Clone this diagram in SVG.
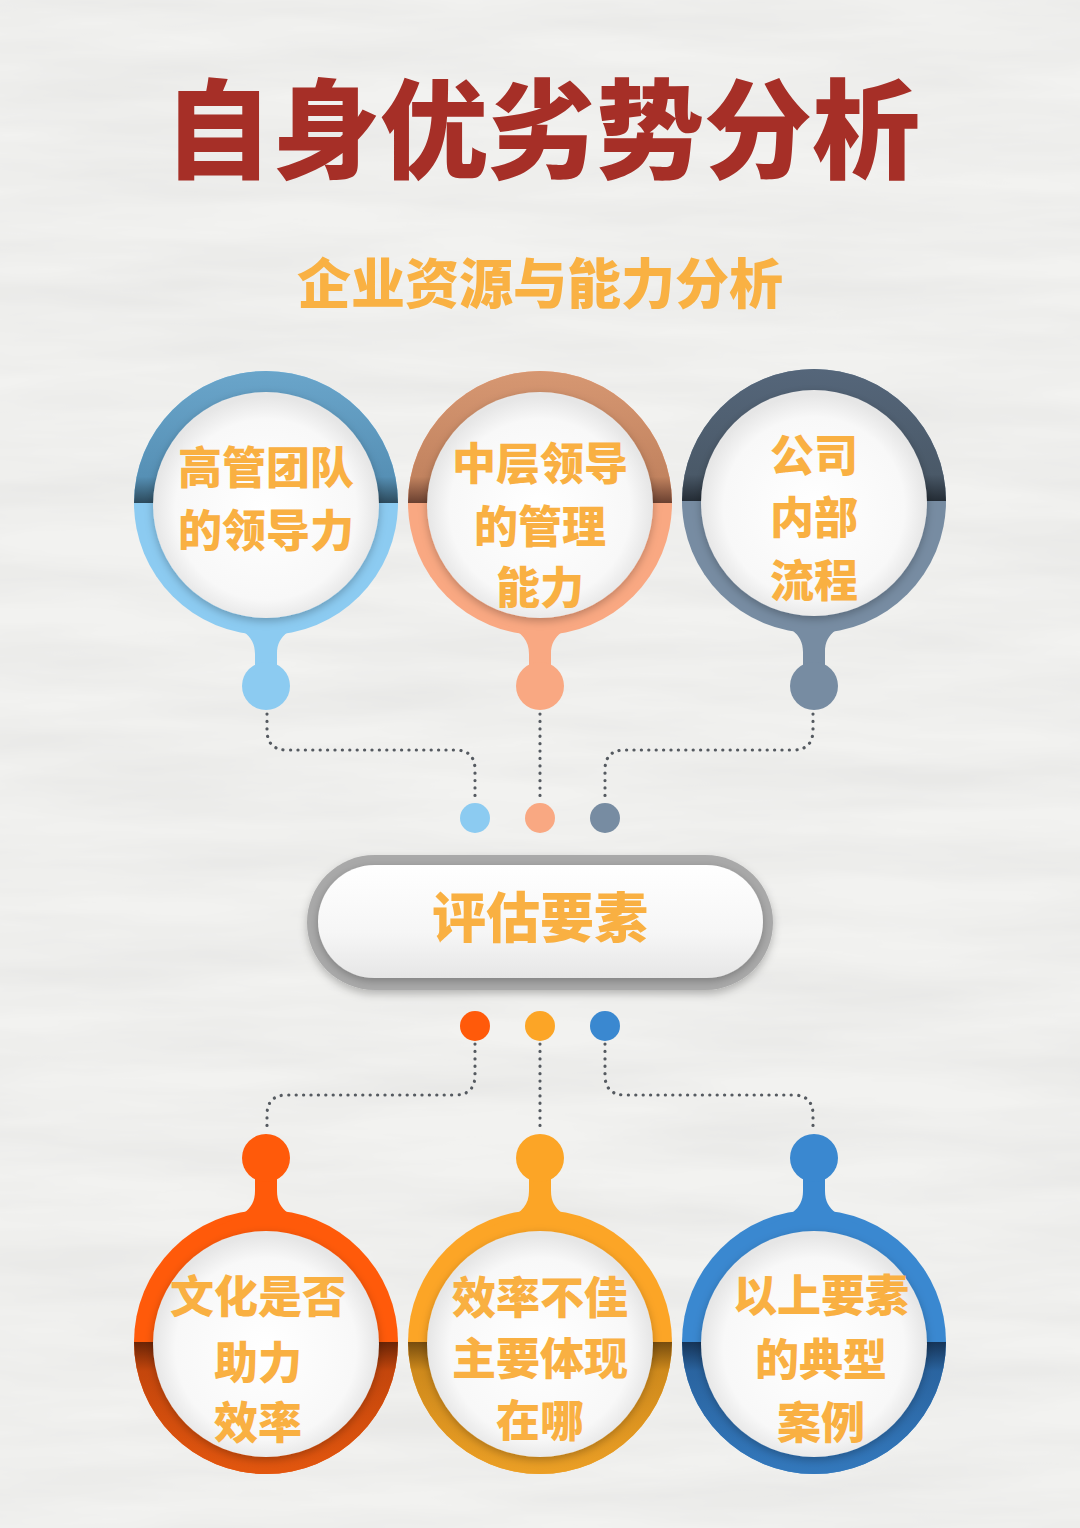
<svg xmlns="http://www.w3.org/2000/svg" width="1080" height="1528" viewBox="0 0 1080 1528">
<defs>
<style>
.cjk{font-family:"Noto Sans CJK SC","Noto Sans CJK JP",sans-serif;font-weight:900;text-anchor:middle}
.lbl{font-size:44px;fill:#f9b042}
.dot{fill:none;stroke:#555a60;stroke-width:3.2;stroke-linecap:round;stroke-dasharray:0.1 7.3}
</style>
<filter id="paper" x="0" y="0" width="100%" height="100%">
<feTurbulence type="fractalNoise" baseFrequency="0.003 0.025" numOctaves="4" seed="7"/>
<feColorMatrix type="matrix" values="0 0 0 0 0.55  0 0 0 0 0.55  0 0 0 0 0.55  0.35 0 0 0 -0.1"/>
</filter>
<filter id="sh" x="-20%" y="-20%" width="140%" height="140%">
<feDropShadow dx="0" dy="3" stdDeviation="4" flood-color="#000" flood-opacity="0.25"/>
</filter>
<filter id="sh2" x="-10%" y="-20%" width="120%" height="140%">
<feDropShadow dx="0" dy="4" stdDeviation="4" flood-color="#000" flood-opacity="0.25"/>
</filter>
<radialGradient id="gDisk" cx="50%" cy="52%" r="50%">
<stop offset="0" stop-color="#ffffff"/>
<stop offset="0.8" stop-color="#f8f8f8"/>
<stop offset="1" stop-color="#e6e6e6"/>
</radialGradient>
<linearGradient id="gPill" x1="0" y1="0" x2="0" y2="1">
<stop offset="0" stop-color="#ffffff"/>
<stop offset="0.6" stop-color="#f6f6f6"/>
<stop offset="1" stop-color="#e6e6e6"/>
</linearGradient>
<linearGradient id="gTop1" x1="0" y1="0" x2="0" y2="1">
<stop offset="0" stop-color="#6aa5ca"/><stop offset="0.8" stop-color="#5690b5"/><stop offset="1" stop-color="#2c4a5c"/>
</linearGradient>
<linearGradient id="gTop2" x1="0" y1="0" x2="0" y2="1">
<stop offset="0" stop-color="#d69772"/><stop offset="0.8" stop-color="#c2835f"/><stop offset="1" stop-color="#6a4030"/>
</linearGradient>
<linearGradient id="gTop3" x1="0" y1="0" x2="0" y2="1">
<stop offset="0" stop-color="#55667a"/><stop offset="0.8" stop-color="#4a5968"/><stop offset="1" stop-color="#242c35"/>
</linearGradient>
<linearGradient id="gBot1" x1="0" y1="0" x2="0" y2="1">
<stop offset="0" stop-color="#6a2406"/><stop offset="0.22" stop-color="#c4460c"/><stop offset="1" stop-color="#e2560e"/>
</linearGradient>
<linearGradient id="gBot2" x1="0" y1="0" x2="0" y2="1">
<stop offset="0" stop-color="#764c0e"/><stop offset="0.22" stop-color="#cf8a1c"/><stop offset="1" stop-color="#eb9f25"/>
</linearGradient>
<linearGradient id="gBot3" x1="0" y1="0" x2="0" y2="1">
<stop offset="0" stop-color="#163457"/><stop offset="0.22" stop-color="#2a64a0"/><stop offset="1" stop-color="#3378bc"/>
</linearGradient>
</defs>

<g id="background">
<rect x="0" y="0" width="1080" height="1528" fill="#f2f2f0"/>
<rect x="0" y="0" width="1080" height="1528" filter="url(#paper)"/>
</g>

<g id="title">
<text class="cjk" x="542" y="170" font-size="108" fill="#a62f27">自身优劣势分析</text>
</g>
<g id="subtitle">
<text class="cjk" x="540" y="304" font-size="54" fill="#f9b143">企业资源与能力分析</text>
</g>

<g id="connectors">
<path class="dot" d="M267 714 L267 730 Q267 750 287 750 L455 750 Q475 750 475 770 L475 801"/>
<path class="dot" d="M540 714 L540 801"/>
<path class="dot" d="M813 714 L813 730 Q813 750 793 750 L625 750 Q605 750 605 770 L605 801"/>
<path class="dot" d="M475 1044 L475 1075 Q475 1095 455 1095 L287 1095 Q267 1095 267 1115 L267 1132"/>
<path class="dot" d="M540 1044 L540 1132"/>
<path class="dot" d="M605 1044 L605 1075 Q605 1095 625 1095 L793 1095 Q813 1095 813 1115 L813 1132"/>
</g>

<g id="junction-top">
<circle cx="475" cy="818" r="15" fill="#8ccbf1"/>
<circle cx="540" cy="818" r="15" fill="#f9a882"/>
<circle cx="605" cy="818" r="15" fill="#778ca2"/>
</g>
<g id="junction-bottom">
<circle cx="475" cy="1026" r="15" fill="#ff5a0a"/>
<circle cx="540" cy="1026" r="15" fill="#fca526"/>
<circle cx="605" cy="1026" r="15" fill="#3a88d0"/>
</g>

<g id="node-top-1">
<circle cx="266" cy="503" r="132" fill="#8ccbf1"/>
<path d="M211,616 C240,628 255,634 255,654 L255,672 L277,672 L277,654 C277,634 292,628 321,616 Z" fill="#8ccbf1"/>
<circle cx="266" cy="686" r="24" fill="#8ccbf1"/>
<path d="M134,503 A132,132 0 0 1 398,503 Z" fill="url(#gTop1)"/>
<circle cx="266" cy="505" r="113" fill="url(#gDisk)" filter="url(#sh)"/>
<text class="cjk lbl" x="266" y="484">高管团队</text>
<text class="cjk lbl" x="266" y="547">的领导力</text>
</g>

<g id="node-top-2">
<circle cx="540" cy="503" r="132" fill="#f9a882"/>
<path d="M485,616 C514,628 529,634 529,654 L529,672 L551,672 L551,654 C551,634 566,628 595,616 Z" fill="#f9a882"/>
<circle cx="540" cy="686" r="24" fill="#f9a882"/>
<path d="M408,503 A132,132 0 0 1 672,503 Z" fill="url(#gTop2)"/>
<circle cx="540" cy="505" r="113" fill="url(#gDisk)" filter="url(#sh)"/>
<text class="cjk lbl" x="540" y="480">中层领导</text>
<text class="cjk lbl" x="540" y="543">的管理</text>
<text class="cjk lbl" x="540" y="604">能力</text>
</g>

<g id="node-top-3">
<circle cx="814" cy="501" r="132" fill="#778ca2"/>
<path d="M759,614 C788,626 803,632 803,652 L803,672 L825,672 L825,652 C825,632 840,626 869,614 Z" fill="#778ca2"/>
<circle cx="814" cy="686" r="24" fill="#778ca2"/>
<path d="M682,501 A132,132 0 0 1 946,501 Z" fill="url(#gTop3)"/>
<circle cx="814" cy="503" r="113" fill="url(#gDisk)" filter="url(#sh)"/>
<text class="cjk lbl" x="814" y="472">公司</text>
<text class="cjk lbl" x="814" y="534">内部</text>
<text class="cjk lbl" x="814" y="597">流程</text>
</g>

<g id="node-center">
<rect x="307" y="855" width="466" height="135" rx="67.5" fill="#a9a9a9" filter="url(#sh2)"/>
<rect x="318" y="865" width="445" height="113" rx="56.5" fill="url(#gPill)" filter="url(#sh)"/>
<text class="cjk" x="540" y="938" font-size="54" fill="#f9b042">评估要素</text>
</g>

<g id="node-bottom-1">
<circle cx="266" cy="1342" r="132" fill="#ff5a0a"/>
<path d="M211,1229 C240,1217 255,1211 255,1191 L255,1172 L277,1172 L277,1191 C277,1211 292,1217 321,1229 Z" fill="#ff5a0a"/>
<circle cx="266" cy="1158" r="24" fill="#ff5a0a"/>
<path d="M134,1342 A132,132 0 0 0 398,1342 Z" fill="url(#gBot1)"/>
<circle cx="266" cy="1344" r="113" fill="url(#gDisk)" filter="url(#sh)"/>
<text class="cjk lbl" x="258" y="1313">文化是否</text>
<text class="cjk lbl" x="258" y="1379">助力</text>
<text class="cjk lbl" x="258" y="1439">效率</text>
</g>

<g id="node-bottom-2">
<circle cx="540" cy="1342" r="132" fill="#fca526"/>
<path d="M485,1229 C514,1217 529,1211 529,1191 L529,1172 L551,1172 L551,1191 C551,1211 566,1217 595,1229 Z" fill="#fca526"/>
<circle cx="540" cy="1158" r="24" fill="#fca526"/>
<path d="M408,1342 A132,132 0 0 0 672,1342 Z" fill="url(#gBot2)"/>
<circle cx="540" cy="1344" r="113" fill="url(#gDisk)" filter="url(#sh)"/>
<text class="cjk lbl" x="540" y="1314">效率不佳</text>
<text class="cjk lbl" x="540" y="1375">主要体现</text>
<text class="cjk lbl" x="540" y="1437">在哪</text>
</g>

<g id="node-bottom-3">
<circle cx="814" cy="1342" r="132" fill="#3a88d0"/>
<path d="M759,1229 C788,1217 803,1211 803,1191 L803,1172 L825,1172 L825,1191 C825,1211 840,1217 869,1229 Z" fill="#3a88d0"/>
<circle cx="814" cy="1158" r="24" fill="#3a88d0"/>
<path d="M682,1342 A132,132 0 0 0 946,1342 Z" fill="url(#gBot3)"/>
<circle cx="814" cy="1344" r="113" fill="url(#gDisk)" filter="url(#sh)"/>
<text class="cjk lbl" x="821" y="1312">以上要素</text>
<text class="cjk lbl" x="821" y="1376">的典型</text>
<text class="cjk lbl" x="821" y="1439">案例</text>
</g>
</svg>
